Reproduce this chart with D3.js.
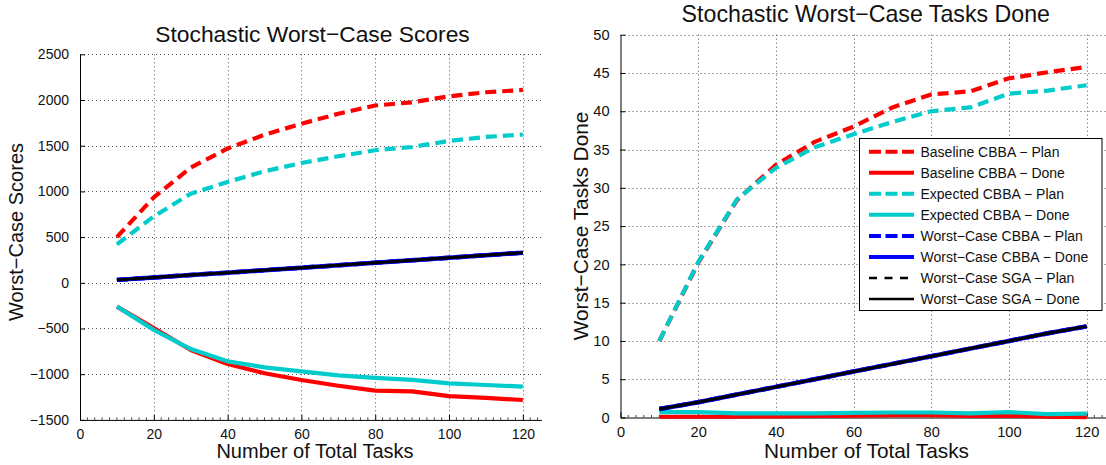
<!DOCTYPE html>
<html>
<head>
<meta charset="utf-8">
<script src="https://cdn.jsdelivr.net/npm/d3@7"></script>
<style>
  html, body { margin: 0; padding: 0; background: #fff; }
  svg { display: block; font-family: "Liberation Sans", Arial, Helvetica, sans-serif; }
</style>
</head>
<body>
<svg id="chart" width="1106" height="465"></svg>
<script>
// Number of tasks on the x axis (shared by both panels)
const tasks = [10, 20, 30, 40, 50, 60, 70, 80, 90, 100, 110, 120];

// Worst-case scores
const scoreBaselinePlan = [500, 935, 1260, 1470, 1620, 1740, 1850, 1940, 1975, 2040, 2085, 2110];
const scoreBaselineDone = [-260, -495, -735, -888, -990, -1063, -1126, -1180, -1188, -1239, -1260, -1282];
const scoreExpectedPlan = [420, 727, 975, 1103, 1220, 1311, 1384, 1450, 1486, 1552, 1596, 1622];
const scoreExpectedDone = [-260, -515, -725, -859, -925, -969, -1013, -1041, -1063, -1100, -1118, -1136];
const scoreWorstCBBAPlan = [32, 58, 85, 111, 138, 165, 192, 220, 247, 274, 302, 330];
const scoreWorstCBBADone = [32, 58, 85, 111, 138, 165, 192, 220, 247, 274, 302, 330];
const scoreWorstSGAPlan  = [32, 58, 85, 111, 138, 165, 192, 220, 247, 274, 302, 330];
const scoreWorstSGADone  = [32, 58, 85, 111, 138, 165, 192, 220, 247, 274, 302, 330];

// Worst-case number of tasks done
const doneBaselinePlan = [10, 20.2, 28.4, 33.0, 36.0, 38.0, 40.5, 42.2, 42.6, 44.3, 45.1, 45.8];
const doneBaselineDone = [0.1, 0.1, 0.1, 0.15, 0.2, 0.25, 0.3, 0.3, 0.2, 0.25, 0.1, 0.05];
const doneExpectedPlan = [10, 20.3, 28.5, 32.6, 35.3, 37.0, 38.6, 40.0, 40.5, 42.3, 42.7, 43.4];
const doneExpectedDone = [0.7, 0.7, 0.55, 0.55, 0.55, 0.6, 0.65, 0.65, 0.55, 0.7, 0.45, 0.5];
const doneWorstCBBAPlan = [1.1, 2.0, 3.0, 4.0, 5.0, 6.0, 7.0, 8.0, 9.0, 10.0, 11.0, 11.9];
const doneWorstCBBADone = [1.1, 2.0, 3.0, 4.0, 5.0, 6.0, 7.0, 8.0, 9.0, 10.0, 11.0, 11.9];
const doneWorstSGAPlan  = [1.1, 2.0, 3.0, 4.0, 5.0, 6.0, 7.0, 8.0, 9.0, 10.0, 11.0, 11.9];
const doneWorstSGADone  = [1.1, 2.0, 3.0, 4.0, 5.0, 6.0, 7.0, 8.0, 9.0, 10.0, 11.0, 11.9];

// Tick values
const xTicks = [0, 20, 40, 60, 80, 100, 120];
const scoreTicks = [-1500, -1000, -500, 0, 500, 1000, 1500, 2000, 2500];
const doneTicks = [0, 5, 10, 15, 20, 25, 30, 35, 40, 45, 50];

// Series names, in plotting order
const seriesNames = [
  "Baseline CBBA \u2212 Plan", "Baseline CBBA \u2212 Done",
  "Expected CBBA \u2212 Plan", "Expected CBBA \u2212 Done",
  "Worst\u2212Case CBBA \u2212 Plan", "Worst\u2212Case CBBA \u2212 Done",
  "Worst\u2212Case SGA \u2212 Plan", "Worst\u2212Case SGA \u2212 Done"
];

// Line styles for each series (plot width / legend width)
const styles = [
  { color: "#ff0000", width: 4.2, legendWidth: 4,   dash: "11,6", legendDash: "12,4.5" },
  { color: "#ff0000", width: 4.2, legendWidth: 4,   dash: null,   legendDash: null },
  { color: "#00cccc", width: 4.2, legendWidth: 4,   dash: "11,6", legendDash: "12,4.5" },
  { color: "#00cccc", width: 4.2, legendWidth: 4,   dash: null,   legendDash: null },
  { color: "#0000ff", width: 4.5, legendWidth: 4,   dash: "11,6", legendDash: "12,4.5" },
  { color: "#0000ff", width: 4.5, legendWidth: 4,   dash: null,   legendDash: null },
  { color: "#000000", width: 2.6, legendWidth: 2.5, dash: "8,7",  legendDash: "8,7.5" },
  { color: "#000000", width: 3.0, legendWidth: 2.5, dash: null,   legendDash: null }
];

const svg = d3.select("#chart");

function drawPanel(opts) {
  const x = d3.scaleLinear().domain([0, 125]).range([opts.left, opts.right]);
  const y = d3.scaleLinear().domain(opts.yDomain).range([opts.bottom, opts.top]);
  const g = svg.append("g");
  const fmt = d3.format("");

  // dotted grid
  const grid = g.append("g").attr("stroke", "#555").attr("stroke-width", 1)
    .attr("stroke-dasharray", "1,3").attr("fill", "none");
  grid.selectAll("line.gx").data(xTicks.filter(t => t > 0)).join("line")
    .attr("class", "gx")
    .attr("x1", d => Math.round(x(d)) + 0.5).attr("x2", d => Math.round(x(d)) + 0.5)
    .attr("y1", opts.top).attr("y2", opts.bottom);
  grid.selectAll("line.gy").data(opts.yTicks.filter(t => t !== opts.yDomain[0])).join("line")
    .attr("class", "gy")
    .attr("x1", opts.left).attr("x2", opts.right)
    .attr("y1", d => Math.round(y(d)) + 0.5).attr("y2", d => Math.round(y(d)) + 0.5);

  // bottom axis with inward ticks
  const xAxis = d3.axisBottom(x).tickValues(xTicks).tickSizeInner(-5).tickSizeOuter(0).tickFormat(fmt).tickPadding(9);
  const gx = g.append("g").attr("transform", `translate(0,${opts.bottom})`).call(xAxis);
  gx.select(".domain").attr("stroke", "#000");
  gx.selectAll("text").attr("font-size", opts.tickFont).attr("fill", "#111")
    .attr("font-family", "Liberation Sans, Arial, sans-serif");
  // minor ticks
  const minor = d3.range(0, 125.01, 2).filter(v => !xTicks.includes(v));
  gx.selectAll("line.minor").data(minor).join("line").attr("class", "minor")
    .attr("x1", d => x(d)).attr("x2", d => x(d)).attr("y1", 0).attr("y2", -2.5)
    .attr("stroke", "#444").attr("stroke-width", 1);

  // left axis with inward ticks
  const yAxis = d3.axisLeft(y).tickValues(opts.yTicks).tickSizeInner(-5).tickSizeOuter(0).tickFormat(fmt).tickPadding(11);
  const gy = g.append("g").attr("transform", `translate(${opts.left},0)`).call(yAxis);
  gy.select(".domain").attr("stroke", "#000");
  gy.selectAll("text").attr("font-size", opts.tickFont).attr("fill", "#111")
    .attr("font-family", "Liberation Sans, Arial, sans-serif");

  // data lines
  const line = d3.line().x((d, i) => x(tasks[i])).y(d => y(d));
  opts.series.forEach((vals, i) => {
    const s = styles[i];
    g.append("path").datum(vals)
      .attr("d", line)
      .attr("fill", "none")
      .attr("stroke", s.color)
      .attr("stroke-width", s.width)
      .attr("stroke-dasharray", s.dash)
      .attr("stroke-linejoin", "round");
  });

  // titles and labels
  g.append("text").attr("x", opts.titleX).attr("y", opts.titleY)
    .attr("text-anchor", "middle").attr("font-size", opts.titleFont).attr("fill", "#111")
    .text(opts.title);
  g.append("text").attr("x", opts.xLabelX).attr("y", 458)
    .attr("text-anchor", "middle").attr("font-size", opts.labelFont).attr("fill", "#111")
    .text("Number of Total Tasks");
  g.append("text")
    .attr("transform", `translate(${opts.yLabelX},${opts.yLabelY}) rotate(-90)`)
    .attr("text-anchor", "middle").attr("font-size", opts.labelFont).attr("fill", "#111")
    .text(opts.yLabel);

  return g;
}

drawPanel({
  left: 80, right: 541.3, top: 54.3, bottom: 419.9,
  yDomain: [-1500, 2500], yTicks: scoreTicks,
  series: [scoreBaselinePlan, scoreBaselineDone, scoreExpectedPlan, scoreExpectedDone,
           scoreWorstCBBAPlan, scoreWorstCBBADone, scoreWorstSGAPlan, scoreWorstSGADone],
  title: "Stochastic Worst\u2212Case Scores", titleX: 312.5, titleY: 41.5, titleFont: 22.8,
  xLabelX: 315, labelFont: 20, tickFont: 14,
  yLabel: "Worst\u2212Case Scores", yLabelX: 23, yLabelY: 232
});

const right = drawPanel({
  left: 620.5, right: 1106, top: 34.7, bottom: 417.5,
  yDomain: [0, 50], yTicks: doneTicks,
  series: [doneBaselinePlan, doneBaselineDone, doneExpectedPlan, doneExpectedDone,
           doneWorstCBBAPlan, doneWorstCBBADone, doneWorstSGAPlan, doneWorstSGADone],
  title: "Stochastic Worst\u2212Case Tasks Done", titleX: 865.8, titleY: 21.5, titleFont: 23.2,
  xLabelX: 866.5, labelFont: 20.8, tickFont: 14.6,
  yLabel: "Worst\u2212Case Tasks Done", yLabelX: 588, yLabelY: 226
});

// legend
const legend = right.append("g");
legend.append("rect").attr("x", 859.5).attr("y", 138.5).attr("width", 242.5).attr("height", 172)
  .attr("fill", "#fff").attr("stroke", "#000").attr("stroke-width", 1);
seriesNames.forEach((name, i) => {
  const yy = 151.7 + i * 21.05;
  const s = styles[i];
  legend.append("line").attr("x1", 869).attr("x2", 914).attr("y1", yy).attr("y2", yy)
    .attr("stroke", s.color).attr("stroke-width", s.legendWidth)
    .attr("stroke-dasharray", s.legendDash);
  legend.append("text").attr("x", 920.5).attr("y", yy).attr("dy", "0.36em")
    .attr("font-size", 14).attr("fill", "#111").text(name);
});
</script>
</body>
</html>
